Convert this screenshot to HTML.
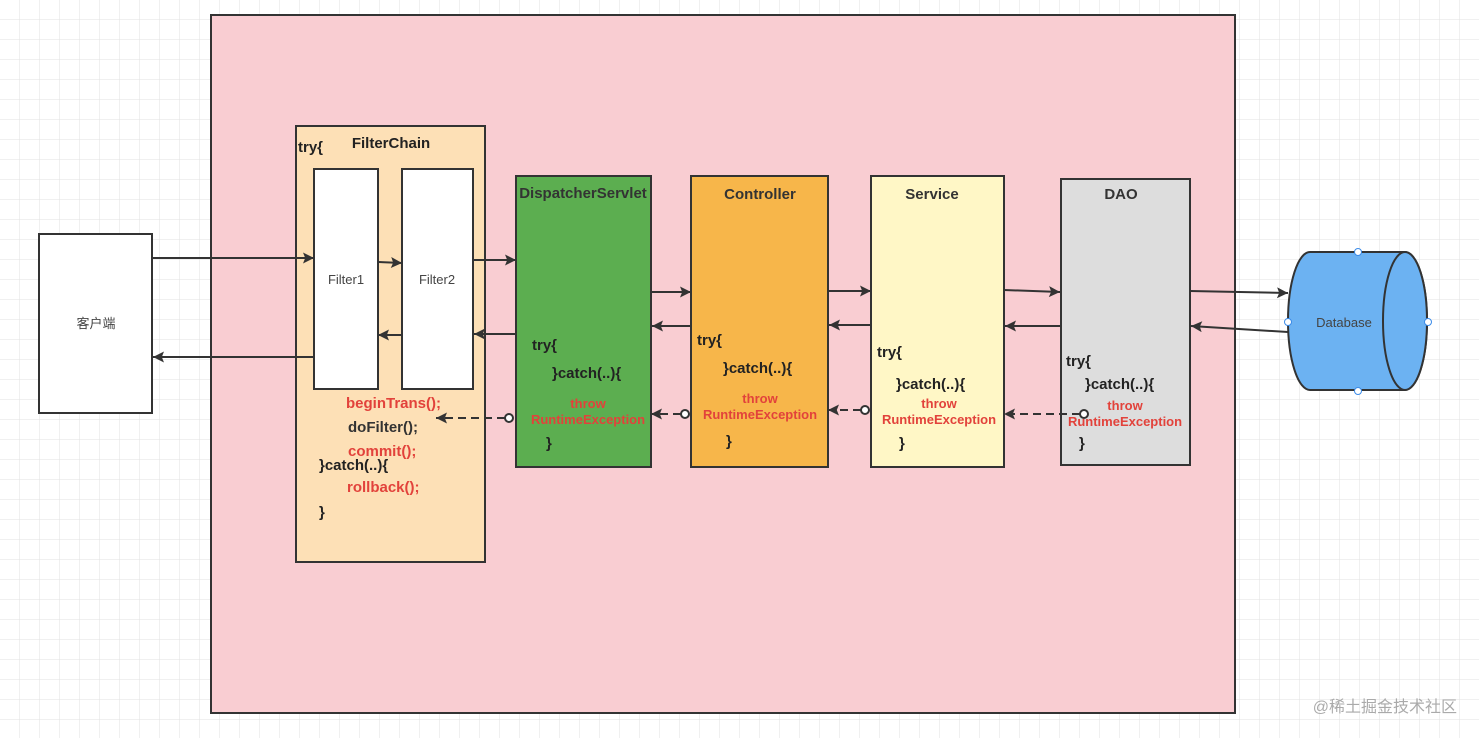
<!DOCTYPE html>
<html><head><meta charset="utf-8"><style>
html,body{margin:0;padding:0;width:1479px;height:738px;overflow:hidden;background:#fff}
svg{display:block}
text{font-family:"Liberation Sans","Noto Sans CJK SC",sans-serif}
.b{font-weight:bold;font-size:15px;fill:#222}
.r{font-weight:bold;font-size:15px;fill:#e2423b}
.rs{font-weight:bold;font-size:13px;fill:#e2423b}
.n{font-size:13px;fill:#444}
</style></head><body>
<svg width="1479" height="738" viewBox="0 0 1479 738">
<defs>
<pattern id="g" width="20" height="20" patternUnits="userSpaceOnUse"><path d="M20 0V20H0" fill="none" stroke="#e2e2e2" stroke-width="1"/></pattern>
<marker id="a" viewBox="0 0 10 10" refX="10" refY="5" markerWidth="14" markerHeight="11" markerUnits="userSpaceOnUse" orient="auto"><path d="M0 0L10 5L0 10L2 5Z" fill="#333"/></marker>
</defs>
<rect width="1479" height="738" fill="url(#g)"/>
<rect x="211" y="15" width="1024" height="698" fill="#f9cdd2" stroke="#333" stroke-width="2"/>
<rect x="39" y="234" width="113" height="179" fill="#fff" stroke="#333" stroke-width="2"/>
<text x="96" y="328" class="n" text-anchor="middle">客户端</text>
<rect x="296" y="126" width="189" height="436" fill="#fde0b6" stroke="#333" stroke-width="2"/>
<rect x="314" y="169" width="64" height="220" fill="#fff" stroke="#333" stroke-width="2"/>
<rect x="402" y="169" width="71" height="220" fill="#fff" stroke="#333" stroke-width="2"/>
<text x="346" y="284" class="n" text-anchor="middle">Filter1</text>
<text x="437" y="284" class="n" text-anchor="middle">Filter2</text>
<text x="298" y="152" class="b">try{</text>
<text x="391" y="148" class="b" text-anchor="middle">FilterChain</text>
<text x="346" y="408" class="r">beginTrans();</text>
<text x="348" y="432" class="b" style="fill:#333">doFilter();</text>
<text x="348" y="456" class="r">commit();</text>
<text x="319" y="470" class="b">}catch(..){</text>
<text x="347" y="492" class="r">rollback();</text>
<text x="319" y="517" class="b">}</text>
<rect x="516" y="176" width="135" height="291" fill="#5cae50" stroke="#333" stroke-width="2"/>
<text x="583" y="198" class="b" text-anchor="middle" style="fill:#333">DispatcherServlet</text>
<text x="532" y="350" class="b">try{</text>
<text x="552" y="378" class="b">}catch(..){</text>
<text x="588" y="408" class="rs" text-anchor="middle">throw</text>
<text x="588" y="424" class="rs" text-anchor="middle">RuntimeException</text>
<text x="546" y="448" class="b">}</text>
<rect x="691" y="176" width="137" height="291" fill="#f7b64a" stroke="#333" stroke-width="2"/>
<text x="760" y="199" class="b" text-anchor="middle" style="fill:#333">Controller</text>
<text x="697" y="345" class="b">try{</text>
<text x="723" y="373" class="b">}catch(..){</text>
<text x="760" y="403" class="rs" text-anchor="middle">throw</text>
<text x="760" y="419" class="rs" text-anchor="middle">RuntimeException</text>
<text x="726" y="446" class="b">}</text>
<rect x="871" y="176" width="133" height="291" fill="#fff7c6" stroke="#333" stroke-width="2"/>
<text x="932" y="199" class="b" text-anchor="middle" style="fill:#333">Service</text>
<text x="877" y="357" class="b">try{</text>
<text x="896" y="389" class="b">}catch(..){</text>
<text x="939" y="408" class="rs" text-anchor="middle">throw</text>
<text x="939" y="424" class="rs" text-anchor="middle">RuntimeException</text>
<text x="899" y="448" class="b">}</text>
<rect x="1061" y="179" width="129" height="286" fill="#dddddd" stroke="#333" stroke-width="2"/>
<text x="1121" y="199" class="b" text-anchor="middle" style="fill:#333">DAO</text>
<text x="1066" y="366" class="b">try{</text>
<text x="1085" y="389" class="b">}catch(..){</text>
<text x="1125" y="410" class="rs" text-anchor="middle">throw</text>
<text x="1125" y="426" class="rs" text-anchor="middle">RuntimeException</text>
<text x="1079" y="448" class="b">}</text>
<path d="M1310 252H1405A22 69 0 0 1 1405 390H1310A22 69 0 0 1 1310 252Z" fill="#6cb2f2" stroke="#333" stroke-width="2"/>
<ellipse cx="1405" cy="321" rx="22" ry="69" fill="#6cb2f2" stroke="#333" stroke-width="2"/>
<text x="1344" y="327" class="n" text-anchor="middle">Database</text>
<g fill="#fff" stroke="#3b8be8" stroke-width="1"><circle cx="1358" cy="252" r="3.5"/><circle cx="1358" cy="391" r="3.5"/><circle cx="1288" cy="322" r="3.5"/><circle cx="1428" cy="322" r="3.5"/></g>
<g stroke="#333" stroke-width="2" fill="none" marker-end="url(#a)">
<path d="M152 258H314"/><path d="M314 357H153"/>
<path d="M378 262L402 263"/><path d="M402 335H378"/>
<path d="M473 260H516"/><path d="M516 334H474"/>
<path d="M651 292H691"/><path d="M691 326H652"/>
<path d="M828 291H871"/><path d="M871 325H829"/>
<path d="M1004 290L1060 292"/><path d="M1061 326H1005"/>
<path d="M1190 291L1288 293"/><path d="M1288 332L1191 326"/>
<path d="M505 418H436" stroke-dasharray="8 5"/>
<path d="M681 414H651" stroke-dasharray="8 5"/>
<path d="M861 410H828" stroke-dasharray="8 5"/>
<path d="M1080 414H1004" stroke-dasharray="8 5"/>
</g>
<g fill="#fff" stroke="#333" stroke-width="2"><circle cx="509" cy="418" r="4"/><circle cx="685" cy="414" r="4"/><circle cx="865" cy="410" r="4"/><circle cx="1084" cy="414" r="4"/></g>
<text x="1457" y="712" text-anchor="end" style="font-size:16px;fill:#aaa">@稀土掘金技术社区</text>
</svg>
</body></html>
